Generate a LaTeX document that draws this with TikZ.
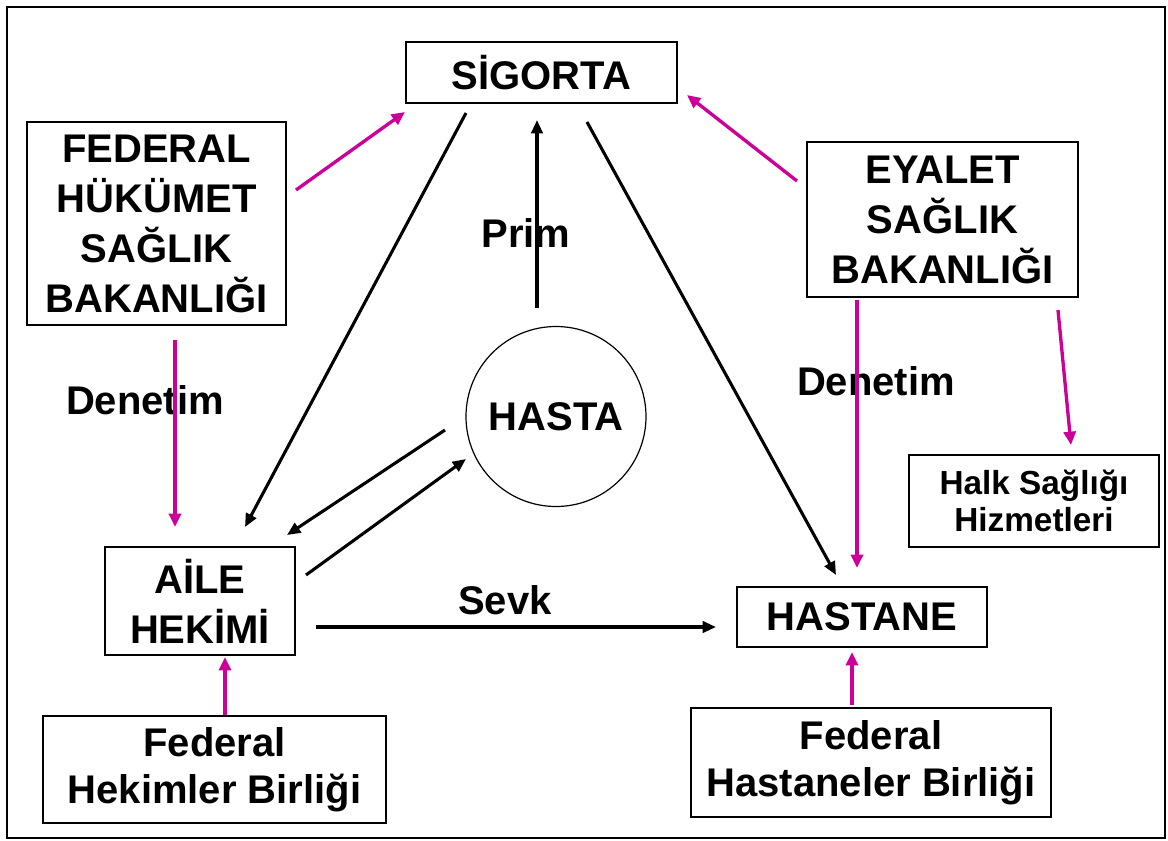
\documentclass[tikz,border=0pt]{standalone}
\usepackage{fontspec}
\setmainfont{Liberation Sans}
\usetikzlibrary{arrows.meta}
\definecolor{pinkarrow}{RGB}{204,0,153}
\tikzset{
  box/.style={draw=black, line width=1.2pt, fill=white, align=center, inner sep=0pt,
    font=\fontsize{30}{37.5}\selectfont\bfseries},
  twoline/.style={box, font=\fontsize{30}{35.5}\selectfont\bfseries},
  smallbox/.style={box, font=\fontsize{25}{28}\selectfont\bfseries},
  lbl/.style={inner sep=0pt, font=\fontsize{30}{37}\selectfont\bfseries},
  blackarrow/.style={draw=black, line width=2.3pt, -{Triangle[length=10pt,width=8.5pt]}},
  pinkarr/.style={draw=pinkarrow, line width=2.5pt, -{Triangle[length=10pt,width=9pt]}},
}
\begin{document}
\begin{tikzpicture}[x=0.75pt,y=-0.75pt]
\useasboundingbox (0,0) rectangle (1168,840);
\draw[line width=1.2pt] (7,7) rectangle (1165,838);

% nodes
\node[box, minimum width=203.25pt, minimum height=45.75pt] (sig) at (541.5,72.5) {SİGORTA};
\node[box, minimum width=194.25pt, minimum height=152.25pt] (fhsb) at (156.5,223.5) {FEDERAL\\HÜKÜMET\\SAĞLIK\\BAKANLIĞI};
\node[box, minimum width=203.25pt, minimum height=116.25pt] (esb) at (942.5,219.5) {EYALET\\SAĞLIK\\BAKANLIĞI};
\node[draw=black, line width=0.9pt, circle, minimum size=135pt, inner sep=0pt,
      font=\fontsize{30}{37}\selectfont\bfseries] (hasta) at (556,416.5) {HASTA};
\node[box, minimum width=142.5pt, minimum height=81pt] (aile) at (200,601) {AİLE\\HEKİMİ};
\node[box, minimum width=187.5pt, minimum height=45pt] (hastane) at (862,617) {HASTANE};
\node[smallbox, minimum width=187.5pt, minimum height=69pt] (halk) at (1034,501) {Halk Sağlığı\\Hizmetleri};
\node[twoline, minimum width=257.25pt, minimum height=80.25pt] (fhb) at (214.5,769.5) {Federal\\Hekimler Birliği};
\node[twoline, minimum width=270pt, minimum height=81.75pt] (fhab) at (871,762.5) {Federal\\Hastaneler Birliği};

% labels
\node[lbl] (prim) at (526,233) {Prim};
\node[lbl] (den1) at (145,400) {Denetim};
\node[lbl] (den2) at (876,381) {Denetim};
\node[lbl] (sevk) at (505,600) {Sevk};

% connector end points
\coordinate (fhsb-o) at (296,190);   \coordinate (sig-i1) at (405,112);
\coordinate (esb-o) at (797,181);    \coordinate (sig-i2) at (687,95);
\coordinate (fhsb-d) at (175,340);   \coordinate (aile-i1) at (175,527);
\coordinate (esb-d) at (857,300);    \coordinate (hastane-i1) at (857,568);
\coordinate (esb-d2) at (1058,310);  \coordinate (halk-i) at (1071,445);
\coordinate (fhb-o) at (225,715);    \coordinate (aile-i2) at (225,657);
\coordinate (fhab-o) at (852,705);   \coordinate (hastane-i2) at (852,652);

\coordinate (sig-o1) at (466,113);   \coordinate (aile-i3) at (245,527);
\coordinate (hasta-o1) at (537,308); \coordinate (sig-i3) at (537,120);
\coordinate (sig-o2) at (587,122);   \coordinate (hastane-i3) at (836,575);
\coordinate (hasta-o2) at (445,430); \coordinate (aile-i4) at (287,535);
\coordinate (aile-o1) at (306,575);  \coordinate (hasta-i1) at (466,459);
\coordinate (aile-o2) at (316,627);  \coordinate (hastane-i4) at (716,627);

% pink arrows
\draw[pinkarr] (fhsb-o) -- (sig-i1);
\draw[pinkarr] (esb-o) -- (sig-i2);
\draw[pinkarr] (fhsb-d) -- (aile-i1);
\draw[pinkarr] (esb-d) -- (hastane-i1);
\draw[pinkarr] (esb-d2) -- (halk-i);
\draw[pinkarr] (fhb-o) -- (aile-i2);
\draw[pinkarr] (fhab-o) -- (hastane-i2);

% black arrows
\draw[blackarrow] (sig-o1) -- (aile-i3);
\draw[blackarrow] (hasta-o1) -- (sig-i3);
\draw[blackarrow] (sig-o2) -- (hastane-i3);
\draw[blackarrow] (hasta-o2) -- (aile-i4);
\draw[blackarrow] (aile-o1) -- (hasta-i1);
\draw[blackarrow] (aile-o2) -- (hastane-i4);
\end{tikzpicture}
\end{document}
